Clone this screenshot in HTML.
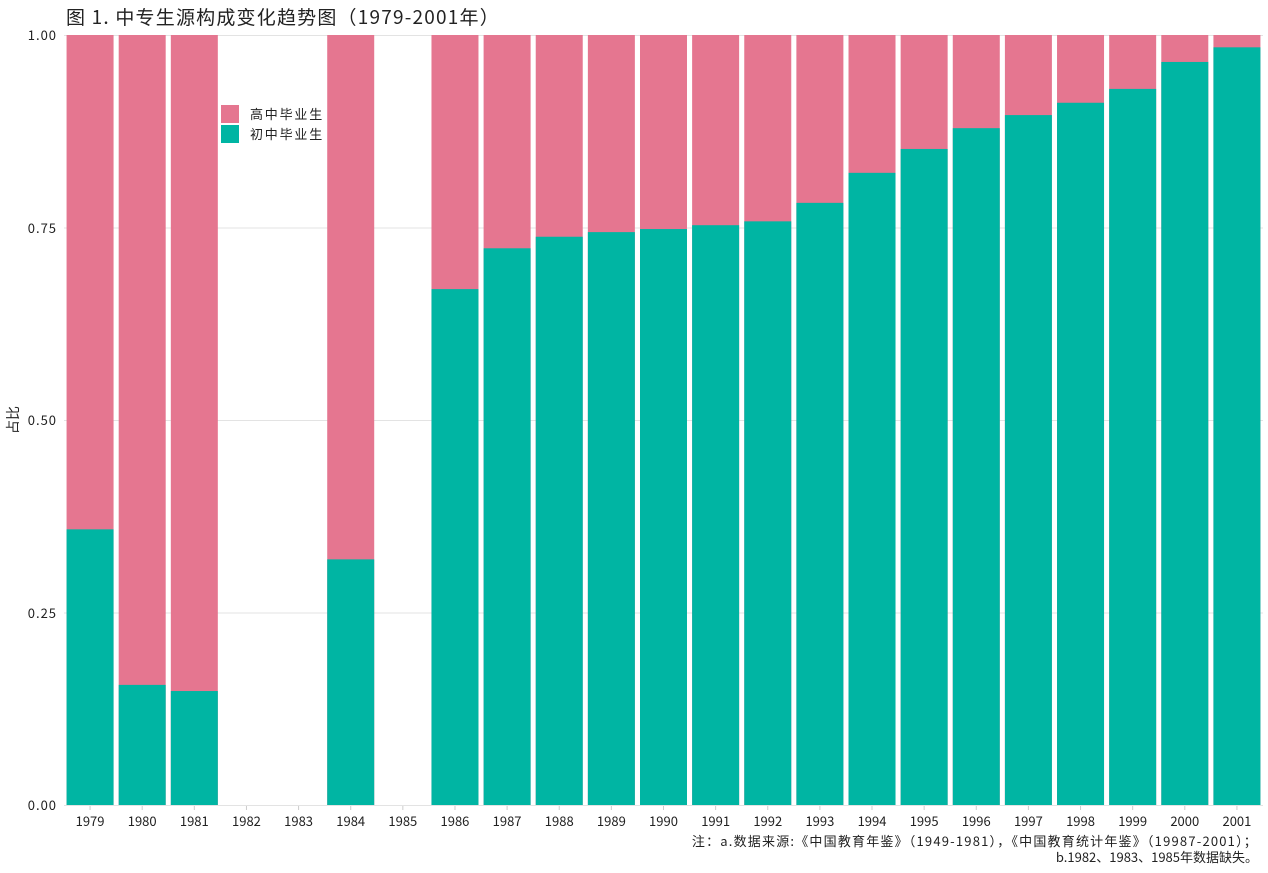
<!DOCTYPE html>
<html><head><meta charset="utf-8"><style>
body{margin:0;background:#fff}
svg text{font-family:"WenQuanYi Zen Hei","Noto Sans CJK SC",sans-serif;fill:#222}
</style></head><body>
<svg width="1268" height="868" xmlns="http://www.w3.org/2000/svg">
<rect width="1268" height="868" fill="#fff"/>
<text x="66" y="24" font-size="19" letter-spacing="1.2">图 1. 中专生源构成变化趋势图（1979-2001年）</text>
<g stroke="#e3e3e3" stroke-width="1">
<line x1="64" x2="1263" y1="35.5" y2="35.5"/><line x1="64" x2="1263" y1="228" y2="228"/>
<line x1="64" x2="1263" y1="420.5" y2="420.5"/><line x1="64" x2="1263" y1="613" y2="613"/>
<line x1="64" x2="1263" y1="805.5" y2="805.5"/>
</g>
<g font-size="13" text-anchor="end" letter-spacing="1">
<text x="57" y="40">1.00</text><text x="57" y="233">0.75</text><text x="57" y="425">0.50</text><text x="57" y="618">0.25</text><text x="57" y="810">0.00</text>
</g>
<text transform="translate(18,420) rotate(-90)" font-size="14" text-anchor="middle">占比</text>
<g id="bars"></g>
<g font-size="13" text-anchor="middle" id="xl"></g>
<rect x="221" y="105" width="18" height="18" fill="#e57690"/>
<rect x="221" y="125" width="18" height="18" fill="#00b5a3"/>
<text x="250" y="119" font-size="13" letter-spacing="1.8">高中毕业生</text>
<text x="250" y="139" font-size="13" letter-spacing="1.8">初中毕业生</text>
<text x="1258" y="846" font-size="13" text-anchor="end" letter-spacing="1.2">注：a.数据来源:《中国教育年鉴》（1949-1981），《中国教育统计年鉴》（19987-2001）；</text>
<text x="1258" y="862" font-size="13" text-anchor="end">b.1982、1983、1985年数据缺失。</text>
</svg>
<script>
var v={0:.358,1:.156,2:.148,5:.319,7:.670,8:.723,9:.738,10:.744,11:.748,12:.753,13:.758,14:.782,15:.821,16:.852,17:.879,18:.896,19:.912,20:.930,21:.965,22:.984};
var b='',l='';
for(var i=0;i<23;i++){var c=64+52.13*(i+0.5);
l+='<line x1="'+c+'" x2="'+c+'" y1="806" y2="810" stroke="#ccc"/><text x="'+c+'" y="826">'+(1979+i)+'</text>';
if(v[i]!==undefined){var x=c-23.5,g=770*v[i];
b+='<rect x="'+x+'" y="35" width="47" height="770" fill="#e57690"/><rect x="'+x+'" y="'+(805-g)+'" width="47" height="'+g+'" fill="#00b5a3"/>';}}
document.getElementById('bars').innerHTML=b;document.getElementById('xl').innerHTML=l;
</script>
</body></html>
